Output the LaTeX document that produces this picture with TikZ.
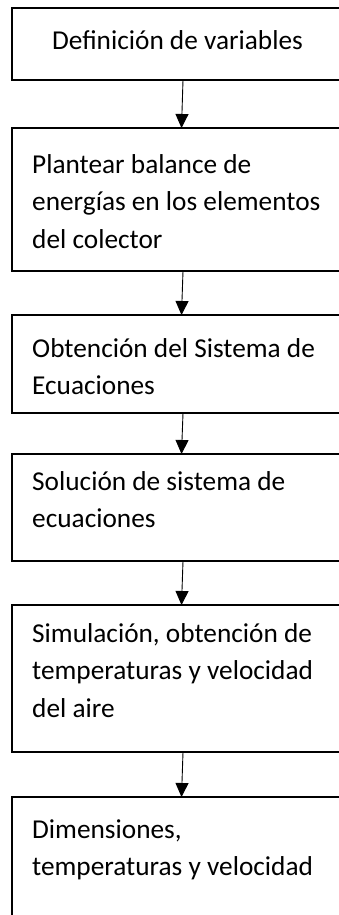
\documentclass[tikz,border=0pt]{standalone}
\usepackage{fontspec}
\setmainfont{Carlito}
\usetikzlibrary{arrows.meta}
\begin{document}
\begin{tikzpicture}[x=1pt,y=1pt,
  box/.style={draw, line width=2.2pt, rectangle, minimum width=340pt, anchor=north west, inner sep=0pt, outer sep=0pt},
  lbl/.style={anchor=base west, inner sep=0pt, align=left, font=\fontsize{27.3}{37.5}\selectfont},
  arr/.style={-{Triangle[width=13pt,length=14pt]}, line width=0.9pt}]
\useasboundingbox (0,0) rectangle (339,-915);
\node[box, minimum height=72pt]  (b1) at (12,-8)   {};
\node[box, minimum height=143pt] (b2) at (12,-128) {};
\node[box, minimum height=98pt]  (b3) at (12,-315) {};
\node[box, minimum height=107pt] (b4) at (12,-454) {};
\node[box, minimum height=147pt] (b5) at (12,-605) {};
\node[box, minimum height=160pt] (b6) at (12,-797) {};
% base anchor of multi-line labels = baseline of the last line
\node[lbl, anchor=base] (t1) at (177.5,-50) {Definición de variables};
\node[lbl] (t2) at (32,-248) {Plantear balance de\\energías en los elementos\\del colector};
\node[lbl] (t3) at (32,-394.5) {Obtención del Sistema de\\Ecuaciones};
\node[lbl] (t4) at (32,-527.5) {Solución de sistema de\\ecuaciones};
\node[lbl] (t5) at (32,-717) {Simulación, obtención de\\temperaturas y velocidad\\del aire};
\node[lbl] (t6) at (32,-875.5) {Dimensiones,\\temperaturas y velocidad};
\draw[arr] ([xshift=171pt]b1.south west) -- ([xshift=169.5pt]b2.north west);
\draw[arr] ([xshift=171pt]b2.south west) -- ([xshift=169.5pt]b3.north west);
\draw[arr] ([xshift=171pt]b3.south west) -- ([xshift=169.5pt]b4.north west);
\draw[arr] ([xshift=171pt]b4.south west) -- ([xshift=169.5pt]b5.north west);
\draw[arr] ([xshift=171pt]b5.south west) -- ([xshift=169.5pt]b6.north west);
\end{tikzpicture}
\end{document}
